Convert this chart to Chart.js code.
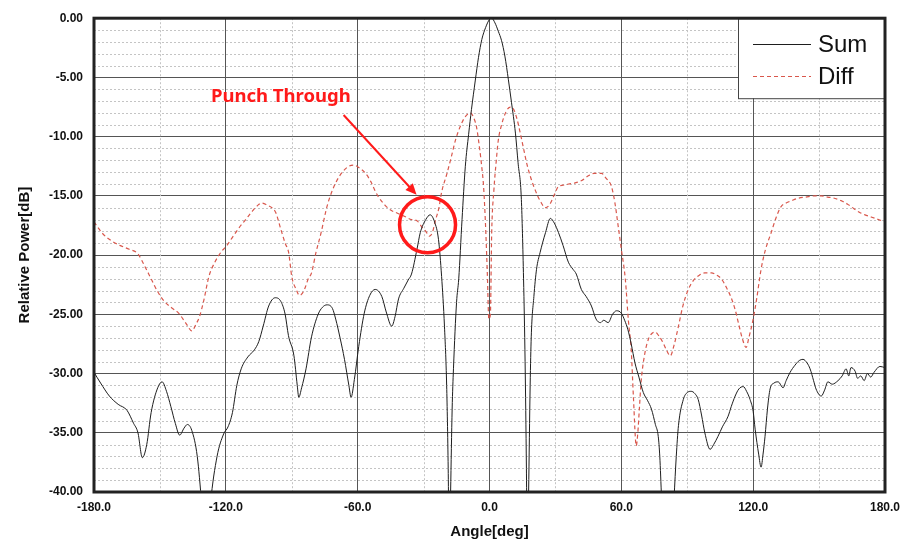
<!DOCTYPE html>
<html>
<head>
<meta charset="utf-8">
<script src="https://cdn.jsdelivr.net/npm/chart.js@4.4.1/dist/chart.umd.min.js"></script>
<style>
  html, body { margin: 0; padding: 0; background: #ffffff; }
  #wrap { width: 913px; height: 547px; }
</style>
</head>
<body>
<div id="wrap"><canvas id="pattern"></canvas></div>
<script>
// --- chart data ---
const sumAngles = [-180,-177,-173,-169,-165,-162,-160,-158,-156,-154,-151,-149,-147,-145,-143,-141,-139,-137.5,-135.5,-133,-131,-129,-127,-124,-121,-119,-117,-115,-113,-110,-107,-105,-103,-100.5,-97.5,-95,-93,-91.5,-89,-87.5,-86.8,-85.5,-83.5,-81,-78,-76,-74,-71.5,-70,-68,-66,-64,-63,-61.5,-59.5,-57,-54.5,-52,-49,-47,-44.5,-43,-41.4,-39,-37,-35.5,-33,-31.5,-29,-27,-25,-23.2,-21.8,-20.5,-19.5,-18.8,-18.3,-17.7,-17,-16.4,-15,-14,-12.5,-11,-9.5,-8.2,-6.5,-5,-3.5,-1.8,0,1,2.5,4,5.5,7,8.6,10,11.8,13,14.5,15.5,16.2,16.8,17.2,17.8,18.5,19,20.2,21.4,23,25.5,27.7,29.5,31.4,33.5,35.9,38,39.5,41.8,44,46.4,48.5,50.5,52,54,56,57.8,60,61.5,63,64.5,66.2,68,70,72,73.7,75.5,76.8,77.5,78.3,80,82,84,85,86,88.2,90,91.8,93.5,95,96.5,98,100.4,102,104,106,108.6,110,111.8,113.5,115.5,117,118.6,120,120.9,122.5,123.6,124.5,125.4,126.5,127.7,129.5,131.4,133.6,135,136.8,139,141,142.7,144.5,145.9,147.5,148.6,151,152.5,154,156,158.6,160.5,162.3,163.5,164.5,166.4,167.5,169,170.5,172,173.5,175,177.7,180];
const sumValues = [-29.9,-30.8,-31.9,-32.6,-33.1,-34.2,-35.0,-37.1,-36.0,-33.3,-31.2,-30.7,-31.5,-32.8,-34.2,-35.2,-34.6,-34.3,-34.8,-37.0,-41,-46,-41,-37,-35.1,-34.5,-33.3,-31.0,-29.6,-28.6,-28.0,-27.3,-26.0,-24.3,-23.6,-23.9,-25.0,-26.8,-28.5,-31,-32.0,-31.2,-29.6,-26.9,-25.0,-24.4,-24.2,-24.5,-25.4,-27.0,-28.8,-31.0,-32.0,-30.5,-27.7,-24.9,-23.4,-22.9,-23.5,-24.8,-26.0,-25.2,-23.7,-22.8,-22.1,-21.6,-19.5,-18.1,-17.0,-16.6,-17.2,-18.7,-21.8,-26,-31,-38,-46,-40,-33,-29.6,-24,-22,-17,-12.5,-9.8,-7.7,-5.3,-3.3,-1.8,-0.8,-0.1,0,-0.4,-1.1,-1.9,-3.2,-5.2,-7.1,-9.7,-12.2,-15.3,-22,-29,-38,-46,-40,-31,-26.9,-23.5,-21.2,-19.8,-18.1,-16.9,-17.3,-18.1,-19.2,-20.6,-21.2,-21.6,-22.9,-23.5,-24.3,-25.4,-25.7,-25.5,-25.7,-25.0,-24.7,-24.9,-25.5,-26.3,-27.5,-29.1,-30.3,-31.6,-32.3,-33.0,-34.3,-35.3,-37,-40.5,-48,-48,-40.5,-37,-34.4,-32.2,-31.6,-31.5,-31.7,-32.2,-33.5,-35.0,-36.4,-36.0,-35.3,-34.5,-33.6,-32.8,-31.9,-31.3,-31.1,-31.5,-32.2,-33.2,-34.7,-36.8,-37.9,-36.8,-35.3,-33,-31.3,-30.8,-30.7,-31.2,-30.6,-29.9,-29.3,-28.9,-28.8,-29.1,-29.6,-30.6,-31.3,-31.9,-31.4,-30.7,-30.9,-30.6,-30.2,-29.6,-30.2,-29.5,-29.8,-30.4,-30.2,-30.6,-30.0,-30.3,-29.9,-29.4,-29.5];

const diffAngles = [-180,-176,-172,-168,-164,-160,-157,-154,-151,-148,-145,-141.5,-138,-135.5,-133.5,-132,-130,-127.7,-125,-122,-120,-117,-114,-111,-108,-105.5,-103.6,-101,-99,-97.3,-95,-93,-91.4,-90,-88,-86.5,-85.5,-84,-82.5,-81,-79,-76.5,-74.5,-73,-70,-67,-64,-61.8,-59.5,-56.4,-54,-52,-50.5,-47.5,-45,-42.7,-39,-35.5,-33,-30.9,-29,-27.3,-26,-24.5,-23,-21.8,-19.5,-17.5,-15.5,-13,-11,-8.6,-7.2,-5.9,-4.5,-3.5,-2.7,-1.8,-1,-0.3,0.4,1,2,3,4,5.5,7.5,9.5,11,12.5,14,15.5,17,19,21,23,25.5,27.5,29.5,31.4,33.5,36,39,42,45,47.5,49.5,51,53,55.5,57,58.6,60,61.8,63.2,64.5,65.5,66.8,67.5,68.2,69,70.5,72.3,74,75.4,77,79,80.5,82.3,84,86,88,90.5,93,95.5,98,101,103.5,105.5,108,110,111.8,113.5,115,116.8,118,120,121.5,123.6,125.5,128.2,130.5,132.7,135,137.5,140.5,144,148,151,154,157,160,163,166,168.5,170.9,174,177,180];
const diffValues = [-17.2,-18.2,-18.8,-19.2,-19.5,-19.9,-20.9,-22.0,-23.1,-23.9,-24.4,-24.9,-25.8,-26.4,-25.8,-25.2,-23.8,-21.8,-20.6,-19.7,-19.3,-18.5,-17.7,-17.0,-16.3,-15.8,-15.6,-15.8,-16.0,-16.4,-17.8,-19.0,-19.8,-21.8,-22.9,-23.4,-23.3,-22.8,-22.0,-21.5,-19.8,-18.0,-16.3,-15.3,-13.9,-13.0,-12.5,-12.4,-12.6,-13.1,-13.8,-14.6,-15.1,-15.8,-16.2,-16.4,-16.7,-17.0,-17.1,-17.6,-18.0,-18.4,-18.1,-17.0,-16.0,-14.7,-13.2,-11.8,-10.3,-9.0,-8.3,-8.0,-8.4,-9.2,-11.0,-12.6,-14.2,-17.5,-21.5,-25.4,-25,-18.1,-14.5,-12.2,-10.3,-9.0,-7.9,-7.5,-7.7,-8.5,-9.7,-11.0,-12.3,-13.6,-14.6,-15.4,-16.0,-15.7,-14.9,-14.2,-14.1,-14.0,-13.9,-13.7,-13.3,-13.1,-13.1,-13.1,-13.5,-14.2,-15.5,-17.6,-19.5,-22.0,-25.5,-28.0,-32,-36.1,-35,-33,-30.7,-28.5,-27.1,-26.6,-26.5,-26.8,-27.4,-28.0,-28.5,-27.6,-26.0,-24.3,-22.9,-22.1,-21.7,-21.5,-21.5,-21.7,-22.0,-22.8,-23.6,-24.6,-25.9,-27.0,-27.8,-27.0,-25.4,-23.8,-21.2,-19.6,-18.1,-16.8,-15.9,-15.6,-15.4,-15.2,-15.1,-15.0,-15.0,-15.1,-15.2,-15.4,-15.7,-16.1,-16.4,-16.6,-16.8,-17.0,-17.2];

const seriesNames = ['Sum', 'Diff'];
const xTicks = [-180, -120, -60, 0, 60, 120, 180];
const yTicks = [0, -5, -10, -15, -20, -25, -30, -35, -40];
const noteText = 'Punch Through';

function toPoints(xs, ys) {
    return xs.map((x, i) => ({ x: x, y: ys[i] }));
}

const SUM_COLOR = '#1e1e1e';
const DIFF_COLOR = '#d9574c';

// minor grid, legend box, frame and the annotation
const decorPlugin = {
    id: 'decor',
    beforeDatasetsDraw(chart) {
        const { ctx, chartArea: a, scales } = chart;
        ctx.save();
        ctx.strokeStyle = '#c4c4c4';
        ctx.lineWidth = 1;
        ctx.setLineDash([2, 2]);
        for (let v = -39; v < 0; v++) {
            if (v % 5 === 0) continue;
            const y = Math.round(scales.y.getPixelForValue(v)) + 0.5;
            ctx.beginPath(); ctx.moveTo(a.left, y); ctx.lineTo(a.right, y); ctx.stroke();
        }
        for (let v = -150; v < 180; v += 60) {
            const x = Math.round(scales.x.getPixelForValue(v)) + 0.5;
            ctx.beginPath(); ctx.moveTo(x, a.top); ctx.lineTo(x, a.bottom); ctx.stroke();
        }
        ctx.restore();
    },
    afterDatasetsDraw(chart) {
        const { ctx, chartArea: a, scales } = chart;
        ctx.save();

        // legend box
        const lx = 738, ly = a.top, lw = a.right - 738, lh = 80;
        ctx.fillStyle = '#ffffff';
        ctx.fillRect(lx, ly, lw, lh);
        ctx.strokeStyle = '#444';
        ctx.lineWidth = 1;
        ctx.strokeRect(lx + 0.5, ly + 0.5, lw, lh);
        ctx.font = '24px "Liberation Sans", Arial, sans-serif';
        ctx.textBaseline = 'middle';
        ctx.fillStyle = '#111';
        const rows = [
            { name: seriesNames[0], color: SUM_COLOR, dash: [], y: 44 },
            { name: seriesNames[1], color: DIFF_COLOR, dash: [4, 3], y: 76 }
        ];
        rows.forEach(r => {
            ctx.strokeStyle = r.color;
            ctx.setLineDash(r.dash);
            ctx.lineWidth = 1;
            ctx.beginPath(); ctx.moveTo(753, r.y + 0.5); ctx.lineTo(811, r.y + 0.5); ctx.stroke();
            ctx.setLineDash([]);
            ctx.fillText(r.name, 818, r.y + 1);
        });

        // frame
        ctx.strokeStyle = '#222';
        ctx.lineWidth = 3;
        ctx.strokeRect(a.left, a.top, a.right - a.left, a.bottom - a.top);

        // annotation
        const px = v => scales.x.getPixelForValue(v);
        const py = v => scales.y.getPixelForValue(v);
        ctx.fillStyle = '#ff1a1a';
        ctx.font = 'bold 18.5px "Noto Sans", "Open Sans", sans-serif';
        ctx.textAlign = 'left';
        ctx.textBaseline = 'middle';
        ctx.fillText(noteText, px(-126.8), py(-6.65));

        const x1 = px(-66.4), y1 = py(-8.17), x2 = px(-33.2), y2 = py(-14.9);
        const ang = Math.atan2(y2 - y1, x2 - x1);
        ctx.strokeStyle = '#ff1a1a';
        ctx.lineWidth = 2;
        ctx.beginPath();
        ctx.moveTo(x1, y1);
        ctx.lineTo(x2 - 8 * Math.cos(ang), y2 - 8 * Math.sin(ang));
        ctx.stroke();
        ctx.beginPath();
        ctx.moveTo(x2, y2);
        ctx.lineTo(x2 - 11 * Math.cos(ang) + 5 * Math.sin(ang), y2 - 11 * Math.sin(ang) - 5 * Math.cos(ang));
        ctx.lineTo(x2 - 11 * Math.cos(ang) - 5 * Math.sin(ang), y2 - 11 * Math.sin(ang) + 5 * Math.cos(ang));
        ctx.closePath();
        ctx.fill();

        ctx.lineWidth = 3.5;
        ctx.beginPath();
        ctx.arc(px(-28.2), py(-17.43), 28, 0, Math.PI * 2);
        ctx.stroke();

        ctx.restore();
    }
};

document.addEventListener('DOMContentLoaded', function() {
    const ctx = document.getElementById('pattern');

    new Chart(ctx, {
        type: 'line',
        data: {
            datasets: [
                {
                    label: seriesNames[0],
                    data: toPoints(sumAngles, sumValues),
                    borderColor: SUM_COLOR,
                    borderWidth: 1,
                    pointRadius: 0,
                    cubicInterpolationMode: 'monotone'
                },
                {
                    label: seriesNames[1],
                    data: toPoints(diffAngles, diffValues),
                    borderColor: DIFF_COLOR,
                    borderWidth: 1.2,
                    borderDash: [4, 3],
                    pointRadius: 0,
                    cubicInterpolationMode: 'monotone'
                }
            ]
        },
        options: {
            responsive: true,
            maintainAspectRatio: false,
            animation: false,
            events: [],
            layout: { padding: { top: 18, right: 28, left: 0, bottom: 0 } },
            plugins: {
                legend: { display: false },
                tooltip: { enabled: false }
            },
            scales: {
                x: {
                    type: 'linear',
                    min: -180,
                    max: 180,
                    afterFit(scale) { scale.height = 55; },
                    afterBuildTicks(scale) { scale.ticks = xTicks.map(v => ({ value: v })); },
                    ticks: {
                        padding: 8,
                        color: '#111',
                        font: { family: '"Liberation Sans", Arial, sans-serif', size: 12, weight: 'bold' },
                        callback: v => v.toFixed(1)
                    },
                    grid: { color: '#555', lineWidth: 1, drawTicks: false },
                    border: { display: false },
                    title: {
                        display: true,
                        text: 'Angle[deg]',
                        color: '#111',
                        font: { family: '"Liberation Sans", Arial, sans-serif', size: 15, weight: 'bold' },
                        padding: { top: 0, bottom: 6 }
                    }
                },
                y: {
                    min: -40,
                    max: 0,
                    afterFit(scale) { scale.width = 94; },
                    afterBuildTicks(scale) { scale.ticks = yTicks.map(v => ({ value: v })); },
                    ticks: {
                        padding: 11,
                        color: '#111',
                        font: { family: '"Liberation Sans", Arial, sans-serif', size: 12, weight: 'bold' },
                        callback: v => v.toFixed(2)
                    },
                    grid: { color: '#555', lineWidth: 1, drawTicks: false },
                    border: { display: false },
                    title: {
                        display: true,
                        text: 'Relative Power[dB]',
                        color: '#111',
                        font: { family: '"Liberation Sans", Arial, sans-serif', size: 15, weight: 'bold' },
                        padding: { top: 16, bottom: 0 }
                    }
                }
            }
        },
        plugins: [decorPlugin]
    });
});
</script>
</body>
</html>
